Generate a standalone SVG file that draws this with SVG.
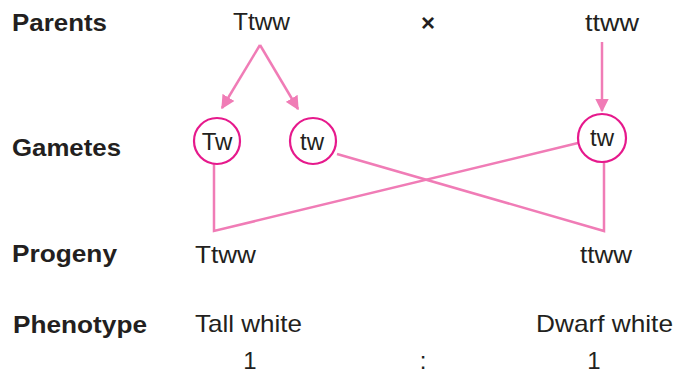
<svg xmlns="http://www.w3.org/2000/svg" width="685" height="375" viewBox="0 0 685 375">
  <style>
    .hd { font-family: "Liberation Sans", Arial, sans-serif; font-weight: bold; font-size: 24px; fill: #231f20; }
    .tx { font-family: "Liberation Sans", Arial, sans-serif; font-size: 24px; fill: #231f20; }
    .gam { fill: #ffffff; stroke: #e6198c; stroke-width: 2.2; }
    .ln { fill: none; stroke: #f07cb6; stroke-width: 2.5; stroke-linejoin: miter; }
  </style>
  <defs>
    <marker id="arr" viewBox="0 0 10 10" refX="9" refY="5" markerWidth="5.5" markerHeight="5.5" orient="auto" markerUnits="strokeWidth">
      <path d="M0,0 L10,5 L0,10 z" fill="#f07cb6"/>
    </marker>
  </defs>
  <rect width="685" height="375" fill="#ffffff"/>

  <!-- row headings -->
  <g id="headings">
    <text class="hd" x="12" y="31" textLength="95" lengthAdjust="spacingAndGlyphs">Parents</text>
    <text class="hd" x="12" y="156" textLength="109" lengthAdjust="spacingAndGlyphs">Gametes</text>
    <text class="hd" x="12" y="262" textLength="105" lengthAdjust="spacingAndGlyphs">Progeny</text>
    <text class="hd" x="13" y="333" textLength="134" lengthAdjust="spacingAndGlyphs">Phenotype</text>
  </g>

  <!-- connectors -->
  <g id="connectors">
    <line class="ln" x1="260" y1="45" x2="222" y2="108" marker-end="url(#arr)"/>
    <line class="ln" x1="260" y1="45" x2="298" y2="109" marker-end="url(#arr)"/>
    <line class="ln" x1="602" y1="42" x2="602" y2="111" marker-end="url(#arr)"/>
    <polyline class="ln" points="214,163 214,231 578,143"/>
    <polyline class="ln" points="337,154 604,231 604,162"/>
  </g>

  <!-- parents -->
  <g id="parent-tall">
    <text class="tx" x="233" y="30" textLength="57" lengthAdjust="spacingAndGlyphs">Ttww</text>
  </g>
  <g id="cross">
    <text class="tx" x="428" y="31" font-size="14" font-weight="bold" text-anchor="middle">×</text>
  </g>
  <g id="parent-dwarf">
    <text class="tx" x="585" y="31" textLength="54" lengthAdjust="spacingAndGlyphs">ttww</text>
  </g>

  <!-- gametes -->
  <g id="gamete-Tw">
    <circle class="gam" cx="217" cy="141" r="23"/>
    <text class="tx" x="217" y="150" text-anchor="middle">Tw</text>
  </g>
  <g id="gamete-tw-1">
    <circle class="gam" cx="313" cy="141" r="23"/>
    <text class="tx" x="312" y="150" text-anchor="middle">tw</text>
  </g>
  <g id="gamete-tw-2">
    <circle class="gam" cx="602" cy="138" r="24"/>
    <text class="tx" x="602" y="146" text-anchor="middle">tw</text>
  </g>

  <!-- progeny -->
  <g id="progeny-tall">
    <text class="tx" x="195" y="263" textLength="61" lengthAdjust="spacingAndGlyphs">Ttww</text>
    <text class="tx" x="195" y="332" textLength="107" lengthAdjust="spacingAndGlyphs">Tall white</text>
    <text class="tx" x="250" y="369" text-anchor="middle">1</text>
  </g>
  <g id="ratio">
    <text class="tx" x="423" y="369" text-anchor="middle">:</text>
  </g>
  <g id="progeny-dwarf">
    <text class="tx" x="580" y="263" textLength="52" lengthAdjust="spacingAndGlyphs">ttww</text>
    <text class="tx" x="536" y="332" textLength="137" lengthAdjust="spacingAndGlyphs">Dwarf white</text>
    <text class="tx" x="594" y="369" text-anchor="middle">1</text>
  </g>
</svg>
